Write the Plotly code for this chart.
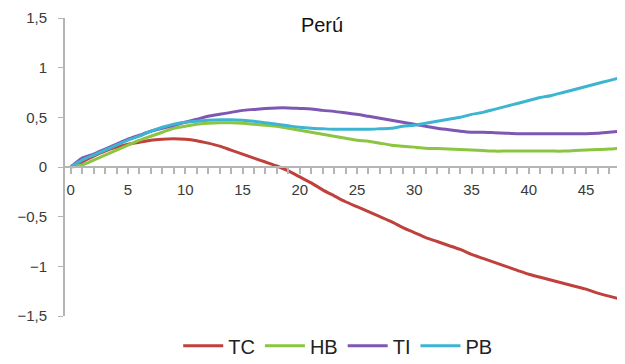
import plotly.graph_objects as go

months = list(range(49))

tc = [0, 0.05, 0.11, 0.16, 0.20, 0.23, 0.25, 0.27, 0.28, 0.285, 0.28, 0.265, 0.24, 0.21, 0.17,
      0.13, 0.09, 0.05, 0.01, -0.04, -0.10, -0.16, -0.23, -0.29, -0.35, -0.40, -0.45, -0.50,
      -0.55, -0.61, -0.66, -0.71, -0.75, -0.79, -0.83, -0.88, -0.92, -0.96, -1.00, -1.04,
      -1.08, -1.11, -1.14, -1.17, -1.20, -1.23, -1.27, -1.30, -1.33]
hb = [0, 0.02, 0.07, 0.12, 0.17, 0.22, 0.27, 0.31, 0.35, 0.39, 0.41, 0.43, 0.44, 0.445, 0.445,
      0.44, 0.43, 0.42, 0.41, 0.39, 0.37, 0.35, 0.33, 0.31, 0.29, 0.27, 0.26, 0.24, 0.22, 0.21,
      0.20, 0.19, 0.185, 0.18, 0.175, 0.17, 0.165, 0.16, 0.16, 0.16, 0.16, 0.16, 0.16, 0.16,
      0.165, 0.17, 0.175, 0.18, 0.19]
ti = [0, 0.09, 0.13, 0.18, 0.23, 0.28, 0.32, 0.36, 0.39, 0.42, 0.45, 0.48, 0.51, 0.53, 0.55,
      0.57, 0.58, 0.59, 0.595, 0.595, 0.59, 0.585, 0.57, 0.56, 0.545, 0.53, 0.51, 0.49, 0.47,
      0.45, 0.43, 0.41, 0.39, 0.375, 0.36, 0.35, 0.35, 0.345, 0.34, 0.335, 0.335, 0.335, 0.335,
      0.335, 0.335, 0.335, 0.34, 0.35, 0.36]
pb = [0, 0.07, 0.12, 0.17, 0.22, 0.27, 0.31, 0.36, 0.40, 0.43, 0.45, 0.46, 0.47, 0.475, 0.475,
      0.47, 0.46, 0.445, 0.43, 0.415, 0.40, 0.39, 0.385, 0.38, 0.38, 0.38, 0.38, 0.385, 0.39,
      0.41, 0.42, 0.44, 0.46, 0.48, 0.50, 0.53, 0.55, 0.58, 0.61, 0.64, 0.67, 0.70, 0.72, 0.75,
      0.78, 0.81, 0.84, 0.87, 0.90]

series_names = ["TC", "HB", "TI", "PB"]
series_values = [tc, hb, ti, pb]
colors = ["#c0403c", "#8cc541", "#7e57b4", "#3db5d2"]

x_tickvals = [0, 5, 10, 15, 20, 25, 30, 35, 40, 45]
y_tickvals = [1.5, 1, 0.5, 0, -0.5, -1, -1.5]
y_ticktext = ["1,5", "1", "0,5", "0", "\u22120,5", "\u22121", "\u22121,5"]

fig = go.Figure()
for name, vals, col in zip(series_names, series_values, colors):
    fig.add_trace(go.Scatter(x=months, y=vals, mode="lines", name=name,
                             line=dict(color=col, width=3, shape="spline", smoothing=0.6)))

# the page body adds an 8px offset; the figure is sized to compensate
fig.update_layout(
    width=617, height=356,
    margin=dict(l=57, r=0, t=10, b=48, autoexpand=False),
    paper_bgcolor="white", plot_bgcolor="white",
    font=dict(family="Liberation Sans, Arial, sans-serif", color="#3a3a3a"),
    title=dict(text="Perú", x=0.459, xref="paper", xanchor="center", y=0.952, yanchor="middle",
               font=dict(size=20, color="#111111")),
    showlegend=True,
    legend=dict(orientation="h", x=0.487, xanchor="center", y=-0.1, yanchor="middle",
                font=dict(size=20, color="#222222"), itemwidth=40, traceorder="normal"),
    xaxis=dict(range=[-0.5, 48.4], tickvals=x_tickvals, showgrid=False, zeroline=False,
               showline=True, linecolor="#b5b5b5", linewidth=2,
               ticks="outside", ticklen=6, tickcolor="#b5b5b5", tickwidth=1.5,
               minor=dict(dtick=1, ticks="outside", ticklen=6, tickcolor="#b5b5b5", tickwidth=1.5),
               anchor="free", position=0.5, ticklabelstandoff=3, automargin=False,
               ticklabeloverflow="allow", tickfont=dict(size=15, color="#3a3a3a")),
    yaxis=dict(range=[-1.5, 1.5], tickvals=y_tickvals, ticktext=y_ticktext, showgrid=False,
               zeroline=False, showline=True, linecolor="#b5b5b5", linewidth=2,
               ticks="outside", ticklen=5, tickcolor="#b5b5b5", ticklabelstandoff=8,
               automargin=False, ticklabeloverflow="allow",
               tickfont=dict(size=15, color="#3a3a3a")),
)

fig.write_html("out.html")
